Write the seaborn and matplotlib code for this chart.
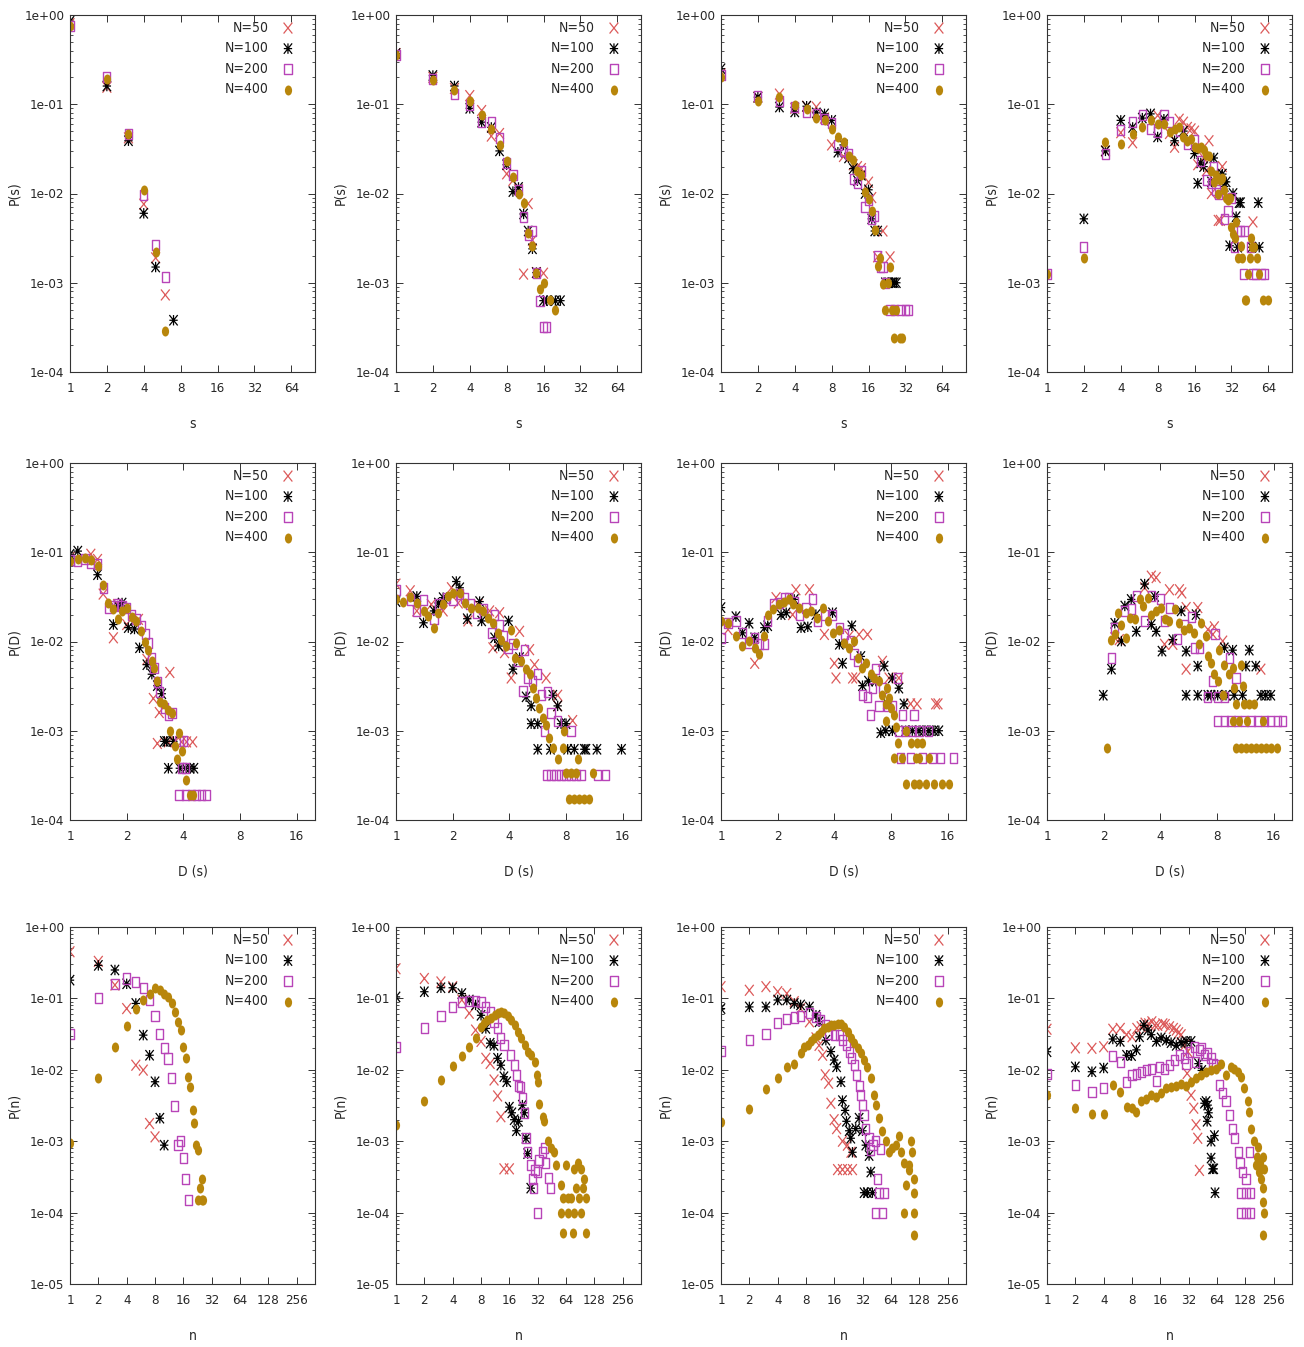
import numpy as np
import matplotlib
matplotlib.use("Agg")
import matplotlib.pyplot as plt
import seaborn as sns
from matplotlib.path import Path
from matplotlib import font_manager as fm
from matplotlib.ticker import FixedLocator, FixedFormatter, LogLocator, NullFormatter, NullLocator

# ---------------- data: (x, P) pairs per series ----------------
LABELS = ["N=50", "N=100", "N=200", "N=400"]

# Row 1 : P(s)
R1C1_N50 = [(1,0.80),(2,0.155),(3,0.042),(4,0.0076),(5,0.0019),(6,0.00073)]
R1C1_N100 = [(1,0.85),(2,0.16),(3,0.039),(4,0.006),(5,0.0015),(7,0.00038)]
R1C1_N200 = [(1,0.76),(2,0.20),(3,0.047),(4,0.0096),(5,0.00264),(6,0.00115)]
R1C1_N400 = [(1,0.76),(2,0.19),(3,0.047),(4,0.011),(5,0.0022),(6,0.00029)]

R1C2_N50 = [(1,0.37),(2,0.2),(3,0.15),(4,0.125),(5,0.085),(6,0.044),(7,0.047),(8,0.0166),(9,0.014),(10,0.011),(11,0.00125),(12,0.0077),(13,0.003),(14,0.0013),(16,0.00128)]
R1C2_N100 = [(1,0.37),(2,0.21),(3,0.16),(4,0.09),(5,0.063),(6,0.055),(7,0.03),(8,0.021),(9,0.0105),(10,0.0117),(11,0.0059),(12,0.0038),(13,0.0024),(14,0.0013),(16,0.00063),(17,0.00063),(20,0.00063),(22,0.00063)]
R1C2_N200 = [(1,0.36),(2,0.19),(3,0.13),(4,0.097),(5,0.063),(6,0.063),(7,0.042),(8,0.022),(9,0.016),(10,0.011),(11,0.0055),(12,0.0034),(13,0.0038),(14,0.00128),(15,0.00063),(16,0.00032),(17,0.00032)]
R1C2_N400 = [(1,0.36),(2,0.185),(3,0.143),(4,0.11),(5,0.075),(6,0.053),(7,0.035),(8,0.0234),(9,0.0152),(10,0.0099),(11,0.0078),(12,0.0036),(13,0.0026),(14,0.00128),(15,0.00085),(16,0.001),(18,0.00064),(20,0.00049)]

R1C3_N50 = [(1,0.22),(2,0.12),(3,0.13),(4,0.09),(5,0.095),(6,0.093),(7,0.07),(8,0.035),(10,0.026),(12,0.021),(13,0.02),(14,0.019),(16,0.0134),(17,0.009),(19,0.00195),(21,0.0038),(24,0.00195)]
R1C3_N100 = [(1,0.25),(2,0.12),(3,0.093),(4,0.082),(5,0.095),(6,0.08),(7,0.078),(8,0.066),(9,0.029),(10,0.035),(11,0.025),(12,0.019),(13,0.0139),(14,0.016),(15,0.01),(16,0.011),(17,0.0052),(18,0.0038),(19,0.0038),(22,0.001),(23,0.001),(25,0.001),(26,0.001),(27,0.001)]
R1C3_N200 = [(1,0.21),(2,0.125),(3,0.11),(4,0.092),(5,0.082),(6,0.078),(7,0.068),(8,0.062),(9,0.035),(10,0.03),(11,0.028),(12,0.0146),(13,0.013),(14,0.018),(15,0.007),(16,0.0085),(17,0.0052),(18,0.0056),(19,0.002),(20,0.0015),(21,0.0015),(22,0.001),(24,0.0005),(26,0.0005),(29,0.0005),(32,0.0005),(34,0.0005)]
R1C3_N400 = [(1,0.2),(2,0.11),(3,0.12),(4,0.097),(5,0.089),(6,0.07),(7,0.066),(8,0.053),(9,0.043),(10,0.0375),(11,0.0266),(12,0.024),(13,0.018),(14,0.016),(15,0.0103),(16,0.0087),(17,0.0063),(18,0.0039),(19,0.00155),(20,0.0019),(21,0.00098),(22,0.0005),(23,0.001),(24,0.0015),(25,0.0005),(26,0.00024),(27,0.0005),(29,0.00024),(30,0.00024)]

R1C4_N50 = [(3,0.03),(4,0.048),(5,0.037),(8,0.075),(10,0.047),(11,0.033),(12,0.068),(13,0.063),(14,0.055),(15,0.053),(16,0.05),(17,0.021),(19,0.025),(20,0.018),(21,0.039),(22,0.01),(25,0.005),(26,0.005),(27,0.02),(48,0.0048)]
R1C4_N100 = [(2,0.0052),(3,0.03),(4,0.066),(5,0.055),(6,0.07),(7,0.078),(8,0.043),(9,0.068),(11,0.039),(13,0.05),(16,0.028),(17,0.013),(18,0.022),(19,0.02),(22,0.0135),(23,0.025),(25,0.016),(27,0.0165),(28,0.012),(29,0.0135),(31,0.0026),(33,0.01),(35,0.0055),(36,0.0025),(37,0.0079),(38,0.0079),(47,0.0025),(53,0.0079),(54,0.0025)]
R1C4_N200 = [(1,0.00125),(2,0.0025),(3,0.028),(4,0.051),(5,0.063),(6,0.075),(7,0.053),(8,0.049),(9,0.075),(10,0.063),(12,0.05),(14,0.036),(16,0.04),(18,0.023),(20,0.014),(22,0.013),(23,0.02),(24,0.011),(25,0.01),(28,0.0052),(30,0.0064),(32,0.009),(34,0.0025),(36,0.0038),(38,0.0038),(40,0.00125),(41,0.0038),(46,0.0025),(48,0.00125),(50,0.00125),(56,0.00125),(60,0.00125)]
R1C4_N400 = [(1,0.00125),(2,0.0019),(3,0.0376),(4,0.036),(5,0.047),(6,0.056),(7,0.066),(8,0.06),(9,0.06),(10,0.049),(11,0.053),(12,0.056),(13,0.043),(14,0.039),(15,0.041),(16,0.033),(17,0.032),(18,0.033),(19,0.031),(20,0.027),(21,0.026),(22,0.018),(23,0.0134),(24,0.016),(25,0.01),(26,0.014),(27,0.015),(28,0.011),(29,0.0088),(30,0.0085),(31,0.0088),(32,0.0042),(33,0.0035),(34,0.0032),(35,0.0048),(36,0.0019),(38,0.0026),(39,0.0019),(41,0.00064),(42,0.00064),(44,0.00125),(45,0.0019),(46,0.0032),(47,0.0025),(49,0.0025),(52,0.0019),(54,0.00125),(58,0.00064),(64,0.00064)]

# Row 2 : P(D)
R2C1_N50 = [(1.0,0.087),(1.29,0.095),(1.4,0.083),(1.5,0.034),(1.7,0.011),(1.79,0.026),(2.0,0.0155),(2.31,0.0177),(2.56,0.0063),(2.77,0.0023),(2.98,0.0016),(3.39,0.0045),(2.91,0.00072),(3.33,0.00075),(3.61,0.00075),(3.91,0.00075),(4.16,0.00075),(4.48,0.00075)]
R2C1_N100 = [(1.0,0.095),(1.1,0.103),(1.4,0.056),(1.7,0.0155),(1.79,0.025),(1.89,0.027),(2.04,0.0143),(2.2,0.0138),(2.34,0.0085),(2.56,0.0055),(2.72,0.0043),(2.91,0.0032),(3.07,0.0026),(3.17,0.00076),(3.26,0.00076),(3.33,0.00038),(3.54,0.00076),(3.83,0.00038),(4.11,0.00038),(4.33,0.00038),(4.55,0.00038)]
R2C1_N200 = [(1.0,0.082),(1.1,0.079),(1.2,0.085),(1.29,0.075),(1.4,0.073),(1.5,0.04),(1.6,0.024),(1.7,0.025),(1.79,0.026),(1.89,0.025),(2.0,0.024),(2.13,0.02),(2.24,0.018),(2.39,0.015),(2.51,0.012),(2.61,0.0095),(2.72,0.0065),(2.79,0.005),(2.91,0.0035),(3.0,0.0027),(3.17,0.0018),(3.33,0.0015),(3.48,0.0016),(3.79,0.00076),(3.99,0.00076),(3.91,0.00038),(4.11,0.00038),(3.79,0.00019),(4.11,0.00019),(4.42,0.00019),(4.7,0.00019),(5.0,0.00019),(5.3,0.00019)]
R2C1_N400 = [(1.0,0.080),(1.1,0.083),(1.2,0.087),(1.29,0.081),(1.4,0.070),(1.5,0.0425),(1.6,0.027),(1.7,0.023),(1.79,0.0177),(1.89,0.022),(2.0,0.024),(2.13,0.019),(2.24,0.017),(2.39,0.013),(2.51,0.010),(2.61,0.0081),(2.72,0.006),(2.79,0.0051),(2.91,0.0036),(3.0,0.0021),(3.17,0.002),(3.33,0.0017),(3.48,0.0016),(3.39,0.001),(3.61,0.00067),(3.79,0.00095),(3.68,0.00048),(3.91,0.00059),(4.11,0.00028),(4.33,0.00019),(4.48,0.00019)]

R2C2_N50 = [(1.0,0.044),(1.19,0.037),(1.29,0.022),(1.54,0.026),(1.78,0.022),(1.97,0.04),(2.14,0.027),(2.41,0.017),(2.73,0.026),(3.14,0.022),(3.27,0.0085),(3.55,0.021),(3.77,0.0075),(4.09,0.0039),(4.53,0.013),(5.12,0.0081),(5.44,0.0055),(6.27,0.0039),(7.22,0.0025),(7.22,0.0019),(8.67,0.0013)]
R2C2_N100 = [(1.0,0.028),(1.29,0.032),(1.4,0.0162),(1.59,0.022),(1.68,0.027),(1.78,0.031),(2.09,0.047),(2.18,0.04),(2.39,0.018),(2.78,0.028),(2.85,0.017),(3.34,0.011),(3.51,0.0089),(3.96,0.017),(4.18,0.0049),(4.53,0.0066),(4.91,0.0024),(5.22,0.0019),(5.22,0.0012),(5.66,0.0012),(5.66,0.00062),(6.61,0.00062),(7.22,0.0019),(6.8,0.0025),(7.52,0.0012),(8.0,0.0012),(8.16,0.00062),(8.85,0.00062),(10.0,0.00062),(10.2,0.00062),(11.67,0.00062),(15.76,0.00062)]
R2C2_N200 = [(1.0,0.038),(1.19,0.029),(1.29,0.022),(1.4,0.029),(1.59,0.018),(1.68,0.026),(1.85,0.031),(2.01,0.029),(2.18,0.034),(2.32,0.031),(2.47,0.026),(2.67,0.021),(2.9,0.023),(3.21,0.0125),(3.34,0.02),(3.55,0.0155),(3.7,0.0115),(3.93,0.0085),(4.18,0.0093),(4.44,0.006),(4.72,0.0028),(4.81,0.0081),(5.01,0.0039),(5.33,0.0036),(5.66,0.0043),(5.9,0.0025),(6.14,0.001),(6.4,0.0027),(6.66,0.0016),(7.22,0.0013),(8.5,0.001),(6.27,0.00032),(6.66,0.00032),(7.08,0.00032),(7.52,0.00032),(8.0,0.00032),(8.5,0.00032),(9.03,0.00032),(9.6,0.00032),(11.76,0.00032),(13.0,0.00032)]
R2C2_N400 = [(1.0,0.0296),(1.09,0.028),(1.19,0.0314),(1.29,0.0272),(1.4,0.0219),(1.48,0.0192),(1.59,0.0142),(1.68,0.021),(1.78,0.026),(1.89,0.0322),(2.01,0.0351),(2.18,0.0351),(2.32,0.0272),(2.51,0.0239),(2.73,0.0239),(2.9,0.0219),(3.08,0.0184),(3.27,0.0162),(3.48,0.0125),(3.62,0.0105),(3.85,0.0089),(4.06,0.0136),(4.26,0.0066),(4.35,0.0097),(4.62,0.006),(4.91,0.0049),(5.12,0.0043),(5.33,0.003),(5.55,0.0023),(5.78,0.0018),(6.02,0.0014),(6.27,0.00117),(6.53,0.00083),(6.8,0.00064),(7.22,0.00048),(7.68,0.00064),(7.84,0.00099),(8.0,0.00034),(8.5,0.00034),(9.03,0.00034),(9.22,0.00048),(11.07,0.00034),(8.33,0.00017),(8.85,0.00017),(9.41,0.00017),(10.0,0.00017),(10.63,0.00017)]

R2C3_N50 = [(1.09,0.0136),(1.51,0.0057),(1.96,0.031),(2.4,0.02),(2.5,0.038),(2.95,0.038),(3.54,0.012),(4.0,0.0057),(4.08,0.0039),(4.79,0.0115),(5.0,0.0039),(5.2,0.0039),(5.41,0.012),(6.0,0.012),(7.2,0.006),(7.8,0.0039),(8.8,0.0039),(10.16,0.002),(11.0,0.002),(13.8,0.002),(14.2,0.002)]
R2C3_N100 = [(1.0,0.024),(1.2,0.019),(1.3,0.0125),(1.41,0.016),(1.51,0.011),(1.7,0.0143),(1.77,0.015),(2.085,0.02),(2.22,0.021),(2.45,0.0296),(2.66,0.0143),(2.89,0.0146),(3.19,0.02),(3.91,0.021),(4.25,0.0093),(4.42,0.0057),(4.95,0.015),(5.53,0.0068),(5.64,0.0032),(6.07,0.0036),(6.64,0.0036),(7.05,0.00095),(7.35,0.0053),(7.5,0.001),(7.65,0.002),(8.13,0.0039),(8.8,0.003),(9.37,0.002),(8.13,0.001),(9.56,0.001),(10.37,0.001),(11.25,0.001),(11.95,0.001),(12.7,0.001),(13.5,0.001),(14.35,0.001)]
R2C3_N200 = [(1.0,0.011),(1.09,0.016),(1.2,0.017),(1.3,0.0125),(1.41,0.0097),(1.51,0.011),(1.6,0.0093),(1.7,0.0093),(1.77,0.017),(1.9,0.026),(2.04,0.027),(2.17,0.031),(2.29,0.031),(2.45,0.028),(2.61,0.02),(2.83,0.024),(3.07,0.0296),(3.26,0.017),(3.54,0.02),(3.91,0.02),(4.25,0.0143),(4.51,0.012),(4.89,0.0101),(5.09,0.0072),(5.31,0.006),(5.64,0.0025),(6.0,0.0024),(6.24,0.0015),(6.37,0.003),(6.64,0.0049),(6.91,0.0019),(7.2,0.003),(7.65,0.0019),(8.13,0.0019),(8.64,0.0039),(9.18,0.0015),(10.58,0.0015),(8.8,0.001),(9.56,0.001),(10.37,0.001),(11.25,0.001),(12.7,0.001),(9.0,0.00049),(10.16,0.00049),(11.71,0.00049),(13.23,0.00049),(14.64,0.00049),(17.2,0.00049)]
R2C3_N400 = [(1.0,0.0169),(1.09,0.0162),(1.2,0.0115),(1.3,0.0089),(1.41,0.0101),(1.51,0.0085),(1.59,0.0072),(1.69,0.0115),(1.77,0.02),(1.9,0.023),(2.04,0.026),(2.17,0.028),(2.29,0.0296),(2.4,0.026),(2.61,0.024),(2.83,0.021),(3.0,0.0219),(3.23,0.0184),(3.47,0.024),(3.68,0.0169),(3.91,0.0125),(4.21,0.0136),(4.51,0.0097),(4.79,0.0085),(5.09,0.0101),(5.37,0.0066),(5.64,0.0051),(5.87,0.0057),(6.24,0.0043),(6.5,0.0039),(6.91,0.0036),(7.2,0.0025),(7.5,0.002),(7.65,0.003),(7.8,0.0023),(7.96,0.0018),(8.3,0.0015),(7.5,0.0013),(8.46,0.0011),(8.74,0.00072),(9.56,0.001),(10.16,0.00072),(11.02,0.00072),(11.71,0.00072),(8.3,0.00049),(9.18,0.00049),(10.8,0.00049),(11.25,0.00049),(12.7,0.00049),(9.56,0.00025),(10.58,0.00025),(11.25,0.00025),(12.2,0.00025),(13.5,0.00025),(14.95,0.00025),(16.2,0.00025)]

R2C4_N50 = [(2.29,0.011),(2.42,0.0105),(3.3,0.04),(3.58,0.054),(3.8,0.052),(4.21,0.0093),(4.47,0.038),(4.66,0.0093),(5.05,0.038),(5.2,0.035),(5.48,0.0049),(5.48,0.024),(6.32,0.024),(7.15,0.0136),(7.6,0.012),(7.74,0.0146),(8.57,0.0101),(13.67,0.0049)]
R2C4_N100 = [(1.99,0.0025),(2.2,0.0049),(2.29,0.016),(2.483,0.0101),(2.59,0.025),(2.8,0.0296),(2.98,0.013),(3.3,0.044),(3.58,0.0155),(3.73,0.032),(3.8,0.013),(4.08,0.0078),(4.66,0.0105),(5.16,0.022),(5.48,0.0078),(5.48,0.0025),(6.19,0.02),(6.32,0.0053),(6.32,0.0025),(7.15,0.0025),(7.43,0.0025),(8.06,0.0025),(8.74,0.0085),(9.68,0.008),(8.92,0.0025),(9.86,0.0025),(10.93,0.0025),(11.38,0.0053),(11.86,0.008),(12.85,0.0053),(13.67,0.0025),(14.5,0.0025),(15.44,0.0025)]
R2C4_N200 = [(2.2,0.0066),(2.29,0.0143),(2.59,0.022),(2.8,0.023),(2.98,0.032),(3.3,0.017),(3.58,0.032),(4.01,0.0296),(4.21,0.017),(4.47,0.024),(4.95,0.0106),(5.37,0.0155),(5.83,0.019),(6.07,0.0085),(6.45,0.0085),(7.15,0.0024),(7.59,0.0036),(7.8,0.012),(8.06,0.0024),(8.74,0.0024),(9.29,0.0066),(10.08,0.0039),(8.06,0.0013),(8.74,0.0013),(9.49,0.0013),(10.29,0.0013),(11.15,0.0013),(12.1,0.0013),(13.12,0.0013),(14.23,0.0013),(15.44,0.0013),(16.75,0.0013),(17.8,0.0013)]
R2C4_N400 = [(2.085,0.00064),(2.2,0.0103),(2.29,0.012),(2.385,0.021),(2.483,0.0155),(2.64,0.011),(2.75,0.0184),(2.92,0.018),(3.1,0.0296),(3.23,0.025),(3.44,0.031),(3.58,0.02),(3.8,0.022),(4.04,0.024),(4.21,0.018),(4.47,0.017),(4.76,0.023),(5.05,0.016),(5.37,0.0136),(5.71,0.0143),(6.07,0.0125),(6.45,0.0093),(6.58,0.016),(6.99,0.0115),(7.15,0.0069),(7.43,0.0057),(7.74,0.0043),(8.06,0.0036),(8.22,0.0081),(8.57,0.0025),(8.74,0.0055),(9.29,0.0043),(9.68,0.0051),(9.86,0.003),(10.7,0.0055),(10.93,0.0032),(10.08,0.002),(11.15,0.002),(11.86,0.002),(12.6,0.002),(9.68,0.0013),(10.5,0.0013),(11.6,0.0013),(13.95,0.0013),(10.08,0.00064),(10.7,0.00064),(11.38,0.00064),(12.1,0.00064),(12.85,0.00064),(13.67,0.00064),(14.5,0.00064),(15.44,0.00064),(16.75,0.00064)]

# Row 3 : P(n)
R3C1_N50 = [(1,0.45),(2,0.33),(3,0.154),(4,0.072),(5,0.0116),(6,0.0099),(7,0.00177),(8,0.00115)]
R3C1_N100 = [(1,0.18),(2,0.29),(3,0.25),(4,0.16),(5,0.085),(6,0.0306),(7,0.016),(8,0.0068),(9,0.0021),(10,0.00088)]
R3C1_N200 = [(1,0.0316),(2,0.1),(3,0.16),(4,0.19),(5,0.168),(6,0.141),(7,0.095),(8,0.056),(9,0.032),(10,0.02),(11,0.0144),(12,0.0076),(13,0.0031),(14,0.00088),(15,0.001),(16,0.00058),(17,0.0003),(18,0.000149)]
R3C1_N400 = [(1,0.00095),(2,0.0076),(3,0.021),(4,0.041),(5,0.072),(6,0.095),(7,0.117),(8,0.141),(9,0.13),(10,0.117),(11,0.106),(12,0.085),(13,0.065),(14,0.047),(15,0.036),(16,0.021),(17,0.0144),(18,0.008),(19,0.0058),(20,0.0027),(21,0.0018),(22,0.00088),(23,0.00075),(24,0.00022),(25,0.0003),(23,0.000149),(25,0.000149),(26,0.000149)]

R3C2_N50 = [(1,0.26),(2,0.19),(3,0.17),(4,0.146),(5,0.095),(6,0.062),(7,0.036),(8,0.025),(9,0.0145),(10,0.0123),(11,0.0072),(12,0.0043),(13,0.0022),(14,0.00041),(16,0.00041)]
R3C2_N100 = [(1,0.105),(2,0.124),(3,0.141),(4,0.141),(5,0.117),(6,0.095),(7,0.081),(8,0.058),(9,0.038),(10,0.0236),(11,0.022),(12,0.0145),(13,0.0116),(14,0.008),(15,0.0068),(16,0.003),(17,0.0025),(18,0.002),(19,0.0014),(20,0.0019),(22,0.0032),(23,0.0025),(24,0.0011),(25,0.00067),(27,0.00022)]
R3C2_N200 = [(1,0.021),(2,0.039),(3,0.056),(4,0.076),(5,0.09),(6,0.092),(7,0.092),(8,0.09),(9,0.076),(10,0.065),(11,0.047),(12,0.038),(13,0.028),(14,0.022),(16.5,0.016),(18,0.0116),(19,0.0085),(20,0.006),(21,0.0058),(22,0.004),(23,0.0025),(24,0.0011),(25,0.0007),(27,0.00046),(28,0.0003),(29,0.00022),(30,0.0004),(32,0.00037),(33,0.00054),(36,0.0007),(38,0.0008),(39,0.0005),(42,0.00031),(44,0.00022),(32,0.0001)]
R3C2_N400 = [(1,0.00168),(2,0.0036),(3,0.0072),(4,0.0114),(5,0.0157),(6,0.021),(7,0.028),(8,0.04),(8.6,0.045),(9.3,0.05),(10.3,0.054),(11.2,0.058),(12.1,0.062),(13.1,0.065),(14.2,0.062),(15.4,0.057),(16.7,0.05),(18.2,0.042),(19.7,0.034),(21.4,0.028),(23.2,0.022),(25.1,0.018),(27.3,0.016),(29.6,0.013),(31.5,0.0085),(32,0.0068),(33.4,0.0033),(36.2,0.0022),(37.6,0.0019),(40.9,0.001),(44.4,0.0008),(48.1,0.0007),(50.1,0.00046),(56.6,0.00024),(64,0.00046),(66.6,0.00016),(78.4,0.00041),(85,0.0005),(92.2,0.00041),(100,0.0003),(104,0.00016),(56.6,0.0001),(66.6,0.0001),(78.4,0.0001),(92.2,0.0001),(59,5.1e-5),(75.2,5.1e-5),(104,5.1e-5),(81.5,0.00022),(96,0.00022),(60,0.00016),(72,0.00016),(88,0.00016)]

R3C3_N50 = [(1,0.146),(2,0.13),(3,0.146),(4,0.124),(5,0.117),(6,0.09),(7,0.072),(8.7,0.047),(10.2,0.028),(11,0.022),(12,0.016),(12.8,0.0085),(13.9,0.0065),(14.7,0.0034),(15.9,0.002),(16.9,0.0015),(19.5,0.001),(22,0.00088),(24,0.0007),(17.3,0.0004),(19.5,0.0004),(22.1,0.0004),(24.9,0.0004)]
R3C3_N100 = [(1,0.072),(2,0.076),(3,0.076),(4,0.095),(5,0.095),(6,0.085),(7,0.081),(8.7,0.076),(10.2,0.058),(11,0.047),(13,0.026),(14.7,0.018),(15.9,0.0137),(16.9,0.011),(18.8,0.0068),(19.5,0.0037),(20.8,0.0027),(21.5,0.0019),(23,0.0014),(23.9,0.0011),(24.9,0.0007),(27,0.0015),(29.3,0.0021),(31.8,0.0014),(34.5,0.00088),(37.4,0.00063),(39,0.00037),(33.1,0.00019),(35.9,0.00019),(40.6,0.00019)]
R3C3_N200 = [(1,0.0183),(2,0.026),(3,0.032),(4,0.045),(5,0.052),(6,0.054),(7,0.057),(8.7,0.062),(10.2,0.055),(11.5,0.05),(12.8,0.042),(13.9,0.032),(15.9,0.031),(18,0.031),(19.5,0.026),(21.4,0.022),(23,0.018),(24.5,0.0145),(26,0.0116),(27.5,0.0085),(29.3,0.006),(30.5,0.0044),(31.8,0.0032),(33.1,0.0023),(34.5,0.0015),(37.4,0.0011),(39,0.00075),(41.2,0.00088),(44,0.001),(49.7,0.00079),(45.8,0.0003),(47.7,0.00019),(53.9,0.00019),(44,0.0001),(51.8,0.0001)]
R3C3_N400 = [(1,0.00183),(2,0.0028),(3,0.0053),(4,0.0076),(5,0.0108),(5.9,0.012),(7,0.017),(7.7,0.021),(8.3,0.022),(9,0.025),(9.8,0.028),(10.6,0.031),(11.5,0.034),(12.5,0.038),(13.6,0.04),(14.7,0.042),(15.9,0.043),(17.3,0.044),(18.8,0.044),(20.3,0.04),(22.1,0.034),(23.9,0.028),(26,0.024),(28.2,0.02),(30.5,0.017),(33.1,0.0137),(35.9,0.011),(39,0.0076),(42.3,0.0044),(44,0.0032),(47.7,0.0021),(51.8,0.0014),(56.2,0.001),(60.9,0.0007),(66.1,0.0008),(71.7,0.00088),(77.7,0.0012),(80.9,0.0007),(87.8,0.0005),(91.4,0.00024),(99.2,0.0004),(103,0.001),(107.5,0.0007),(112,0.0003),(112,0.00019),(112,0.0001),(87.8,0.0001),(112,4.8e-5),(99.2,0.00046)]

R3C4_N50 = [(1,0.037),(2,0.0203),(3,0.02),(4,0.021),(5,0.037),(6,0.038),(7,0.031),(8,0.029),(9,0.038),(10,0.04),(11,0.045),(12,0.044),(13,0.047),(14,0.042),(15,0.042),(17,0.044),(18,0.043),(20,0.04),(22,0.038),(23.6,0.036),(25,0.033),(26.6,0.031),(28.9,0.022),(31.3,0.018),(30.8,0.0089),(33.9,0.0044),(36.2,0.0029),(38.3,0.0017),(39.9,0.0011),(41.6,0.00039)]
R3C4_N100 = [(1,0.0179),(2,0.011),(3,0.0094),(4,0.0106),(5,0.027),(6,0.025),(7,0.016),(7.9,0.0158),(8.9,0.019),(9.6,0.029),(10.7,0.042),(11.8,0.036),(12.8,0.031),(14.5,0.025),(16.3,0.028),(18.5,0.026),(20.8,0.024),(23.6,0.022),(26.6,0.024),(30,0.025),(33.9,0.025),(40.6,0.0122),(44,0.0098),(47,0.0034),(48.9,0.0036),(50.9,0.0032),(50.2,0.0019),(52,0.0025),(55.3,0.001),(60,0.0012),(55.3,0.00058),(57.3,0.00041),(59,0.00041),(60.9,0.00019)]
R3C4_N200 = [(1,0.0086),(2,0.0061),(3,0.0049),(4,0.0055),(5,0.0158),(6,0.013),(7,0.0068),(8,0.0085),(8.9,0.0086),(10,0.0094),(11.3,0.0098),(12.8,0.0104),(14.5,0.007),(15.7,0.011),(17.7,0.0104),(20,0.0116),(22.6,0.0137),(25.5,0.016),(28.9,0.0145),(30,0.012),(32.6,0.018),(36.8,0.021),(38,0.013),(41.6,0.019),(44,0.02),(47,0.016),(50,0.017),(55.3,0.0145),(58,0.012),(62.4,0.0116),(67.7,0.0061),(73.4,0.0047),(79.6,0.0036),(86.4,0.0023),(93.6,0.0015),(97.4,0.0011),(108,0.0007),(112,0.0005),(119.5,0.00037),(129.6,0.0003),(140.5,0.0007),(115,0.00019),(129.6,0.00019),(146,0.00019),(115,0.0001),(129.6,0.0001),(146,0.0001)]
R3C4_N400 = [(1,0.0044),(2,0.0029),(3,0.0024),(4,0.0024),(5,0.0062),(6,0.0049),(7,0.003),(7.9,0.0029),(8.9,0.0026),(10,0.0037),(11.3,0.0039),(12.8,0.0044),(14.5,0.0042),(16.3,0.0047),(18.5,0.0055),(20.8,0.0057),(23.6,0.006),(26.6,0.0064),(30,0.006),(33.9,0.0068),(38.3,0.0076),(43.3,0.0085),(48.9,0.0094),(55.3,0.0098),(62.4,0.0104),(70.5,0.0122),(79.6,0.0085),(89.9,0.011),(97.6,0.0104),(105.8,0.0094),(114.7,0.008),(124.5,0.0055),(135,0.0036),(140.5,0.0026),(146.4,0.0015),(158.8,0.001),(175,0.00084),(165.4,0.00046),(170,0.0006),(179.4,0.00037),(185,0.0005),(186.8,0.0003),(194.6,0.00022),(194.6,0.00014),(199.3,0.0001),(194.6,4.8e-5),(194.6,0.0006),(202.7,0.00041)]

# axis settings per row
ROW_XMAX = [100, 20, 400]
ROW_YMIN = [1e-4, 1e-4, 1e-5]
ROW_XTICKS = [[1, 2, 4, 8, 16, 32, 64], [1, 2, 4, 8, 16], [1, 2, 4, 8, 16, 32, 64, 128, 256]]
ROW_XLABEL = ["s", "D (s)", "n"]
ROW_YLABEL = ["P(s)", "P(D)", "P(n)"]

GRID = [
    [(R1C1_N50, R1C1_N100, R1C1_N200, R1C1_N400), (R1C2_N50, R1C2_N100, R1C2_N200, R1C2_N400),
     (R1C3_N50, R1C3_N100, R1C3_N200, R1C3_N400), (R1C4_N50, R1C4_N100, R1C4_N200, R1C4_N400)],
    [(R2C1_N50, R2C1_N100, R2C1_N200, R2C1_N400), (R2C2_N50, R2C2_N100, R2C2_N200, R2C2_N400),
     (R2C3_N50, R2C3_N100, R2C3_N200, R2C3_N400), (R2C4_N50, R2C4_N100, R2C4_N200, R2C4_N400)],
    [(R3C1_N50, R3C1_N100, R3C1_N200, R3C1_N400), (R3C2_N50, R3C2_N100, R3C2_N200, R3C2_N400),
     (R3C3_N50, R3C3_N100, R3C3_N200, R3C3_N400), (R3C4_N50, R3C4_N100, R3C4_N200, R3C4_N400)],
]

# ---------------- style ----------------
sns.set_theme(style="ticks")
names = {f.name for f in fm.fontManager.ttflist}
if "Liberation Sans Narrow" in names:
    FONT = dict(family="Liberation Sans Narrow")
else:
    FONT = dict(family="DejaVu Sans", stretch="condensed")
plt.rcParams["font.family"] = [FONT["family"], "DejaVu Sans"]
if "stretch" in FONT:
    plt.rcParams["font.stretch"] = "condensed"

RED = "#dc5a5a"
BLACK = "#000000"
PURPLE = "#b844b8"
GOLD = "#b8860b"

circ = Path.unit_circle()
ELL = Path(circ.vertices * np.array([0.72, 1.0]), circ.codes)
SQR = Path([(-0.36, -0.5), (0.36, -0.5), (0.36, 0.5), (-0.36, 0.5), (-0.36, -0.5)],
           [Path.MOVETO, Path.LINETO, Path.LINETO, Path.LINETO, Path.CLOSEPOLY])
XMK = Path([(-0.4, -0.5), (0.4, 0.5), (-0.4, 0.5), (0.4, -0.5)],
           [Path.MOVETO, Path.LINETO, Path.MOVETO, Path.LINETO])
STAR = Path([(-0.4, 0), (0.4, 0), (0, -0.5), (0, 0.5), (-0.4, -0.5), (0.4, 0.5), (-0.4, 0.5), (0.4, -0.5)],
            [Path.MOVETO, Path.LINETO] * 4)

STYLES = [
    dict(marker=XMK, s=62, facecolor="none", edgecolor=RED, linewidth=0.9),
    dict(marker=STAR, s=56, facecolor="none", edgecolor=BLACK, linewidth=0.9),
    dict(marker=SQR, s=52, facecolor="none", edgecolor=PURPLE, linewidth=1.0),
    dict(marker=ELL, s=52, facecolor=GOLD, edgecolor=GOLD, linewidth=0.0),
]

W, H = 1304, 1347
fig = plt.figure(figsize=(W / 100, H / 100), dpi=100)
COL_LEFT = [70, 396, 721, 1047]
ROW_TOP = [15, 463, 927]
AX_W, AX_H = 245, 357

YTICKS_ALL = [1e-5, 1e-4, 1e-3, 1e-2, 1e-1, 1.0]
YLAB_ALL = ["1e-05", "1e-04", "1e-03", "1e-02", "1e-01", "1e+00"]

for r in range(3):
    for c in range(4):
        ax = fig.add_axes([COL_LEFT[c] / W, 1 - (ROW_TOP[r] + AX_H) / H, AX_W / W, AX_H / H])
        for pairs, lab, st in zip(GRID[r][c], LABELS, STYLES):
            xs = [p[0] for p in pairs]
            ys = [p[1] for p in pairs]
            sns.scatterplot(x=xs, y=ys, ax=ax, label=lab, **st)
        ax.set_xscale("log", base=2)
        ax.set_yscale("log")
        ax.set_xlim(1, ROW_XMAX[r])
        ax.set_ylim(ROW_YMIN[r], 1.0)
        xt = ROW_XTICKS[r]
        ax.xaxis.set_major_locator(FixedLocator(xt))
        ax.xaxis.set_major_formatter(FixedFormatter([str(v) for v in xt]))
        ax.xaxis.set_minor_locator(NullLocator())
        i0 = 0 if r == 2 else 1
        ax.yaxis.set_major_locator(FixedLocator(YTICKS_ALL[i0:]))
        ax.yaxis.set_major_formatter(FixedFormatter(YLAB_ALL[i0:]))
        ax.yaxis.set_minor_locator(LogLocator(base=10, subs=np.arange(2, 10)))
        ax.yaxis.set_minor_formatter(NullFormatter())
        ax.tick_params(which="both", direction="in", top=True, right=True, color="#333333")
        ax.tick_params(axis="x", which="major", length=5, width=0.7, labelsize=9.5, pad=7)
        ax.tick_params(axis="y", which="major", length=5, width=0.7, labelsize=9.5, pad=4)
        ax.tick_params(which="minor", length=2.5, width=0.6)
        for sp in ax.spines.values():
            sp.set_color("#333333")
            sp.set_linewidth(0.8)
        ax.set_xlabel(ROW_XLABEL[r], fontsize=10)
        ax.set_ylabel(ROW_YLABEL[r], fontsize=10)
        ax.xaxis.set_label_coords(0.5, -0.125)
        ax.yaxis.set_label_coords(-0.2, 0.5)
        ax.legend(loc="upper right", bbox_to_anchor=(0.918, 0.984), markerfirst=False,
                  frameon=False, fontsize=10, borderpad=0, borderaxespad=0,
                  handlelength=1.0, handletextpad=0.9, labelspacing=0.47, scatterpoints=1)

fig.savefig("out.png", dpi=100)
